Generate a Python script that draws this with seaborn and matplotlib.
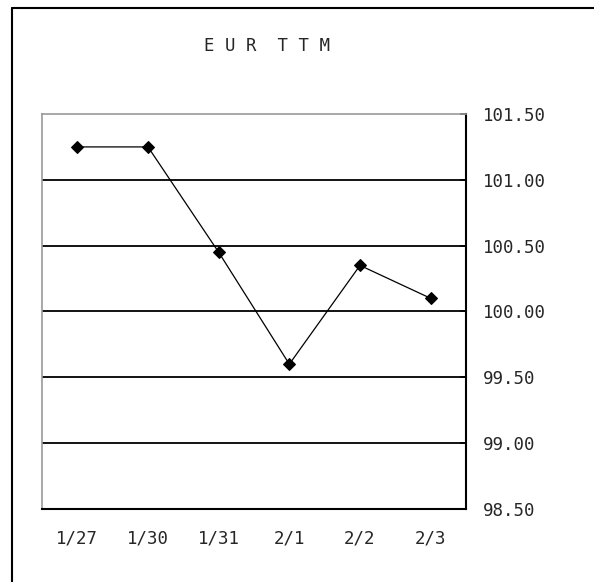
import matplotlib
matplotlib.use("Agg")
import matplotlib.pyplot as plt
import seaborn as sns
import pandas as pd
import numpy as np
from matplotlib.lines import Line2D

dates = ["1/27", "1/30", "1/31", "2/1", "2/2", "2/3"]
values = [101.25, 101.25, 100.45, 99.60, 100.35, 100.10]
yticks = [98.5, 99.0, 99.5, 100.0, 100.5, 101.0, 101.5]
ytick_labels = ["98.50", "99.00", "99.50", "100.00", "100.50", "101.00", "101.50"]

sns.set_style("white")
plt.rcParams['font.family'] = ['DejaVu Sans Mono', 'DejaVu Sans']

df = pd.DataFrame({"x": np.arange(len(dates)), "v": values})

fig = plt.figure(figsize=(5.94, 5.82), dpi=100)
ax = fig.add_axes([42/594, 1-509/582, 424/594, 395/582])

for y in yticks[1:-1]:
    ax.axhline(y, color="black", lw=1.3, zorder=1)

sns.lineplot(data=df, x="x", y="v", ax=ax, color="black", lw=0.9,
             marker="D", markersize=6, markeredgecolor="black", zorder=3)

ax.set_xlim(-0.5, len(dates) - 0.5)
ax.set_ylim(98.5, 101.5)
ax.set_xlabel("")
ax.set_ylabel("")

ax.set_xticks(np.arange(len(dates)))
ax.set_xticklabels(dates, fontsize=12.5)
ax.set_xticks(np.arange(0.5, len(dates) - 1, 1.0), minor=True)
ax.tick_params(axis="x", which="major", length=0, pad=15)
ax.tick_params(axis="x", which="minor", direction="in", length=4, width=1.2, color="black")

ax.yaxis.tick_right()
ax.set_yticks(yticks)
ax.set_yticklabels(ytick_labels, fontsize=12.5)
ax.tick_params(axis="y", direction="in", length=4, width=1.2, color="black", pad=12,
               left=False, right=True)

for s in ["left", "top"]:
    ax.spines[s].set_color("#999999")
    ax.spines[s].set_linewidth(1.2)
for s in ["right", "bottom"]:
    ax.spines[s].set_color("black")
    ax.spines[s].set_linewidth(1.5)
    ax.spines[s].set_visible(True)

fig.text(267/594, 1-46/582, "E U R  T T M", ha="center", va="center", fontsize=12.5)

fig.add_artist(Line2D([12/594, 12/594], [0, 1-8/582], color="black", lw=1.5, transform=fig.transFigure))
fig.add_artist(Line2D([12/594, 1], [1-8/582, 1-8/582], color="black", lw=1.5, transform=fig.transFigure))

fig.savefig("out.png", dpi=100)
